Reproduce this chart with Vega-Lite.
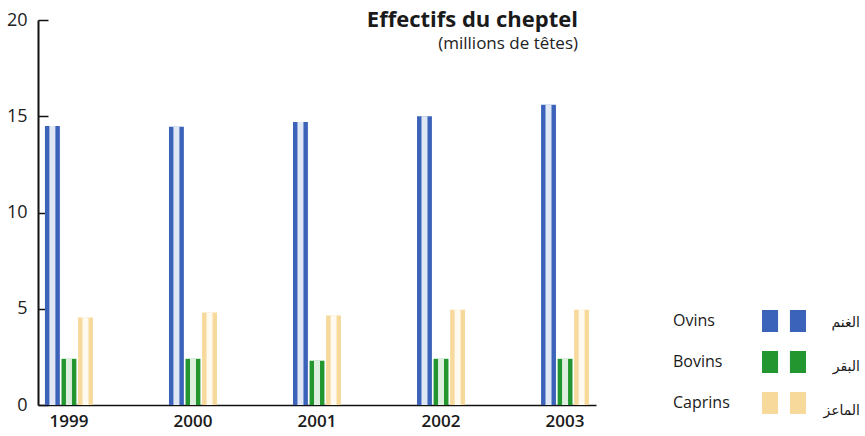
{
  "$schema": "https://vega.github.io/schema/vega-lite/v6.json",
  "width": 558,
  "height": 385,
  "autosize": {"type": "none"},
  "padding": {"left": 38, "top": 20, "right": 269, "bottom": 31},
  "background": "white",
  "title": {
    "text": "Effectifs du cheptel",
    "subtitle": "(millions de têtes)",
    "anchor": "end",
    "frame": "group",
    "dx": -18,
    "dy": 46,
    "font": "Open Sans",
    "fontSize": 22,
    "fontWeight": "bold",
    "color": "#1a1a1a",
    "subtitleFont": "Open Sans",
    "subtitleFontSize": 17,
    "subtitleColor": "#222",
    "subtitlePadding": 4
  },
  "data": {
    "values": [
      {"year": "1999", "species": "Ovins", "species_ar": "الغنم", "value": 14.5},
      {"year": "1999", "species": "Bovins", "species_ar": "البقر", "value": 2.4},
      {"year": "1999", "species": "Caprins", "species_ar": "الماعز", "value": 4.55},
      {"year": "2000", "species": "Ovins", "species_ar": "الغنم", "value": 14.45},
      {"year": "2000", "species": "Bovins", "species_ar": "البقر", "value": 2.4},
      {"year": "2000", "species": "Caprins", "species_ar": "الماعز", "value": 4.8},
      {"year": "2001", "species": "Ovins", "species_ar": "الغنم", "value": 14.7},
      {"year": "2001", "species": "Bovins", "species_ar": "البقر", "value": 2.3},
      {"year": "2001", "species": "Caprins", "species_ar": "الماعز", "value": 4.65},
      {"year": "2002", "species": "Ovins", "species_ar": "الغنم", "value": 15.0},
      {"year": "2002", "species": "Bovins", "species_ar": "البقر", "value": 2.4},
      {"year": "2002", "species": "Caprins", "species_ar": "الماعز", "value": 4.95},
      {"year": "2003", "species": "Ovins", "species_ar": "الغنم", "value": 15.6},
      {"year": "2003", "species": "Bovins", "species_ar": "البقر", "value": 2.4},
      {"year": "2003", "species": "Caprins", "species_ar": "الماعز", "value": 4.95}
    ]
  },
  "encoding": {
    "x": {
      "field": "year",
      "type": "nominal",
      "scale": {"paddingInner": 0.613, "paddingOuter": 0.056},
      "axis": {
        "title": null,
        "labelAngle": 0,
        "labelFontSize": 17,
        "labelFont": "Open Sans",
        "labelFontWeight": 600,
        "labelColor": "#1a1a1a",
        "labelPadding": 8,
        "ticks": false,
        "domainColor": "#111",
        "domainWidth": 1.5
      }
    },
    "xOffset": {
      "field": "species",
      "type": "nominal",
      "sort": ["Ovins", "Bovins", "Caprins"],
      "scale": {"paddingInner": 0.1}
    },
    "y": {
      "field": "value",
      "type": "quantitative",
      "scale": {"domain": [0, 20], "nice": false},
      "axis": {
        "title": null,
        "values": [0, 5, 10, 15, 20],
        "grid": false,
        "tickSize": -10,
        "tickColor": "#111",
        "tickWidth": 1.5,
        "labelPadding": 21,
        "labelFontSize": 18,
        "labelFont": "Open Sans",
        "labelColor": "#222",
        "domainColor": "#111",
        "domainWidth": 2
      }
    }
  },
  "layer": [
    {
      "mark": {"type": "bar", "strokeOpacity": 0, "strokeWidth": 0},
      "encoding": {
        "color": {
          "field": "species",
          "type": "nominal",
          "scale": {
            "domain": ["Ovins", "Bovins", "Caprins"],
            "range": ["#3b63b9", "#23962f", "#f7d99b"]
          },
          "legend": {
            "orient": "none",
            "legendX": 724,
            "legendY": 279,
            "title": null,
            "symbolType": "M -1 -0.5 H -0.27 V 0.5 H -1 Z M 0.27 -0.5 H 1 V 0.5 H 0.27 Z",
            "symbolSize": 1936,
            "symbolStrokeWidth": 0,
            "symbolOpacity": 1,
            "rowPadding": 8,
            "labelAlign": "left",
            "labelOffset": -133,
            "labelFont": "Open Sans",
            "labelFontSize": 16,
            "labelColor": "#1a1a1a",
            "labelLimit": 200
          }
        },
        "stroke": {
          "field": "species_ar",
          "type": "nominal",
          "scale": {"domain": ["الغنم", "البقر", "الماعز"], "range": ["#ffffff", "#ffffff", "#ffffff"]},
          "legend": {
            "orient": "none",
            "legendX": 724,
            "legendY": 281,
            "title": null,
            "symbolType": "square",
            "symbolSize": 1936,
            "symbolOpacity": 0,
            "symbolStrokeWidth": 0,
            "rowPadding": -5,
            "labelAlign": "right",
            "labelOffset": 54,
            "labelFont": "DejaVu Sans",
            "labelFontSize": 14,
            "labelColor": "#1a1a1a"
          }
        }
      }
    },
    {
      "mark": {"type": "bar", "width": 6, "color": "white", "opacity": 0.85},
      "encoding": {}
    }
  ],
  "config": {
    "view": {"stroke": null}
  }
}
